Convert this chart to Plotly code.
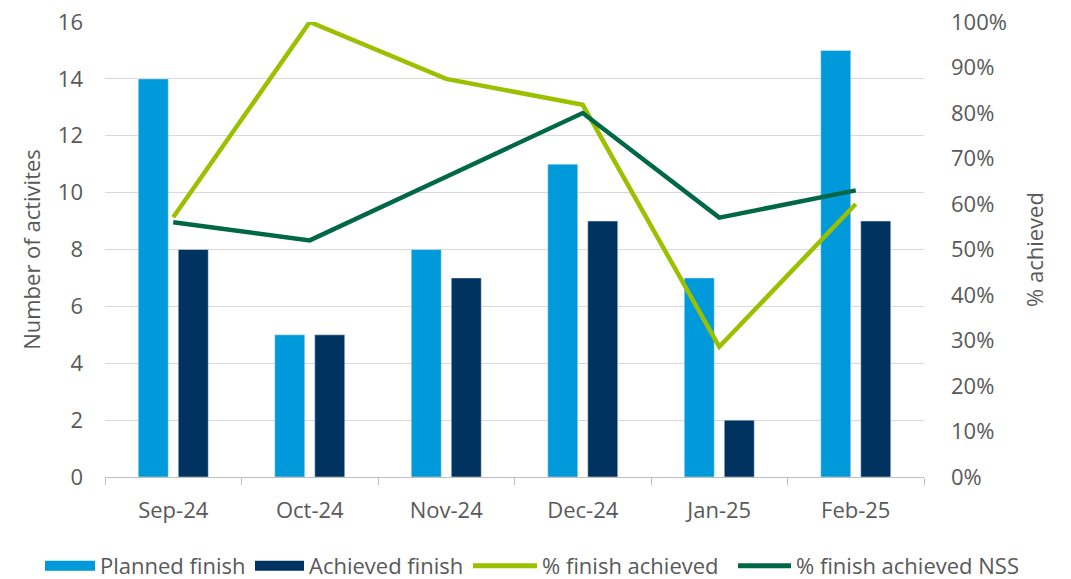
import plotly.graph_objects as go

categories = ["Sep-24", "Oct-24", "Nov-24", "Dec-24", "Jan-25", "Feb-25"]
planned_finish = [14, 5, 8, 11, 7, 15]
achieved_finish = [8, 5, 7, 9, 2, 9]
pct_finish_achieved = [0.571, 1.0, 0.875, 0.818, 0.286, 0.60]
pct_finish_achieved_nss = [0.56, 0.52, 0.66, 0.80, 0.57, 0.63]

C_PLANNED = "#0099DA"
C_ACHIEVED = "#00335F"
C_PCT = "#9BC000"
C_NSS = "#006847"
TXT = "#595959"
FONT = "Open Sans"
FS = 22

# body margin removed via post_script, so figure fills the 1071x579 window
OFF = 0
W, H = 1071 - OFF, 579 - OFF
PLOT_L, PLOT_R, PLOT_T, PLOT_B = 105, 924, 22, 477  # page pixel targets
ML = PLOT_L - OFF
MT = PLOT_T - OFF
MR = W - (PLOT_R - OFF)
MB = H - (PLOT_B - OFF)
PW = PLOT_R - PLOT_L
PH = PLOT_B - PLOT_T


def px_to_paper_x(px):
    return (px - PLOT_L) / PW


def px_to_paper_y(py):
    return 1 - (py - PLOT_T) / PH


fig = go.Figure()
fig.add_trace(go.Bar(x=categories, y=planned_finish, name="Planned finish",
                     marker_color=C_PLANNED, showlegend=False, yaxis="y"))
fig.add_trace(go.Bar(x=categories, y=achieved_finish, name="Achieved finish",
                     marker_color=C_ACHIEVED, showlegend=False, yaxis="y"))
fig.add_trace(go.Scatter(x=categories, y=pct_finish_achieved, name="% finish achieved",
                         mode="lines", line=dict(color=C_PCT, width=4.5), yaxis="y2",
                         showlegend=False, cliponaxis=False))
fig.add_trace(go.Scatter(x=categories, y=pct_finish_achieved_nss, name="% finish achieved NSS",
                         mode="lines", line=dict(color=C_NSS, width=4.5), yaxis="y2",
                         showlegend=False, cliponaxis=False))

# legend entries, each in its own legend for positioning
legend_items = [
    ("Planned finish", C_PLANNED, 16, "legend", 40, 50),
    ("Achieved finish", C_ACHIEVED, 16, "legend2", 250, 49),
    ("% finish achieved", C_PCT, 5, "legend3", 468, 64),
    ("% finish achieved NSS", C_NSS, 5, "legend4", 733, 53),
]
legend_layout = {}
for name, col, w, lg, xpx, iw in legend_items:
    fig.add_trace(go.Scatter(x=[None], y=[None], mode="lines", name=name,
                             line=dict(color=col, width=w), showlegend=True, legend=lg))
    legend_layout[lg] = dict(orientation="h", x=px_to_paper_x(xpx), xanchor="left",
                             y=px_to_paper_y(566), yanchor="middle",
                             font=dict(family=FONT, size=FS, color=TXT), itemwidth=iw,
                             bgcolor="rgba(0,0,0,0)", borderwidth=0)

fig.update_layout(
    width=W, height=H,
    margin=dict(l=ML, r=MR, t=MT, b=MB, autoexpand=False),
    paper_bgcolor="white", plot_bgcolor="white",
    font=dict(family=FONT, size=FS, color=TXT),
    barmode="group", bargap=0.414, bargroupgap=0.25,
    xaxis=dict(type="category", showgrid=False, showline=True, linecolor="#BFBFBF",
               linewidth=1, ticks="outside", tickson="boundaries", ticklen=7,
               tickcolor="#BFBFBF", tickfont=dict(size=FS, color=TXT), automargin=False,
               ticklabelstandoff=14),
    yaxis=dict(range=[0, 16], dtick=2, showgrid=True, gridcolor="#D9D9D9", gridwidth=1.3,
               zeroline=False, showline=False, automargin=False, ticklabeloverflow="allow",
               title=dict(text="Number of activites", font=dict(size=FS, color=TXT), standoff=11),
               tickfont=dict(size=FS, color=TXT), ticklabelstandoff=21),
    yaxis2=dict(range=[0, 1], dtick=0.1, tickformat=".0%", overlaying="y", side="right",
                showgrid=False, zeroline=False, showline=False, automargin=False,
                ticklabeloverflow="allow",
                title=dict(text="% achieved", font=dict(size=FS, color=TXT), standoff=21),
                tickfont=dict(size=FS, color=TXT), ticklabelstandoff=26),
    **legend_layout,
)

fig.write_html("out.html",
               config={"displayModeBar": False},
               post_script="document.body.style.margin='0';document.body.style.overflow='hidden';")
